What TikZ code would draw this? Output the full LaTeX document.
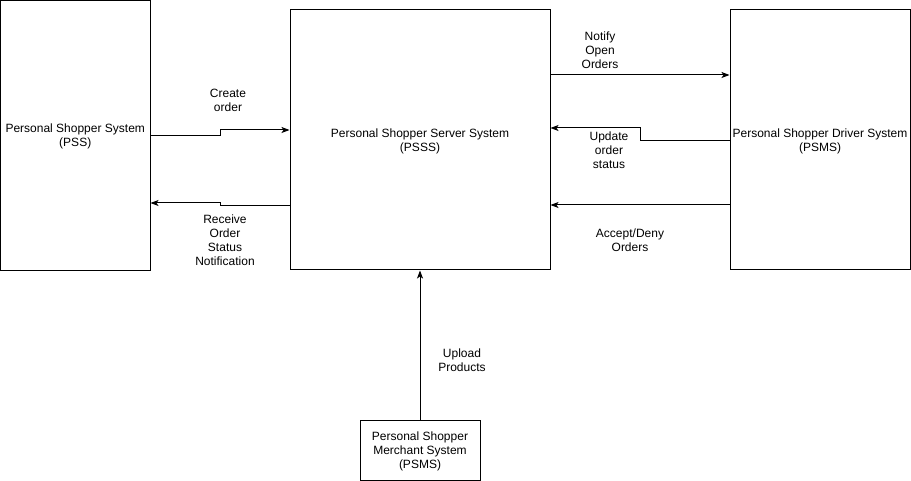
\documentclass[tikz,border=0pt]{standalone}
\usepackage{fontspec}
\setmainfont{Liberation Sans}
\usetikzlibrary{arrows.meta,calc}
\begin{document}
\begin{tikzpicture}[x=1pt,y=-1pt,
  box/.style={draw,line width=1pt,inner sep=0pt},
  lbl/.style={inner sep=0pt,align=center,font=\fontsize{12}{14}\selectfont},
  boxtext/.style={label={[lbl,yshift=-1pt]center:#1}},
  conn/.style={line width=1pt,-{Stealth[length=8pt,width=6pt,inset=2pt]}}]
\useasboundingbox (0,0) rectangle (911,481);
\node[box,minimum width=149.5pt,minimum height=269.5pt,boxtext={Personal Shopper System\\(PSS)}] (pss) at (75.25,135.5) {};
\node[box,minimum width=260pt,minimum height=260pt,boxtext={Personal Shopper Server System\\(PSSS)}] (psss) at (420,140) {};
\node[box,minimum width=180pt,minimum height=260pt,boxtext={Personal Shopper Driver System\\(PSMS)}] (drv) at (820,140) {};
\node[box,minimum width=120pt,minimum height=60pt,boxtext={Personal Shopper\\Merchant System\\(PSMS)}] (mer) at (420,450) {};
% connector points
\coordinate (c1) at (220,135.5);
\coordinate (c1b) at (220,130);
\coordinate (c2) at (220,205.5);
\coordinate (c2b) at (220,203);
\coordinate (c3) at (640,140.5);
\coordinate (c3b) at (640,128);
% connectors
\draw[conn] (pss.east) -- (c1) -- (c1b) -- (c1b -| psss.west);
\draw[conn] (c2 -| psss.west) -- (c2) -- (c2b) -- (c2b -| pss.east);
\draw[conn] (550,75) coordinate (n1) -- (n1 -| drv.west);
\draw[conn] (c3 -| drv.west) -- (c3) -- (c3b) -- (c3b -| psss.east);
\draw[conn] (730,205) coordinate (a1) -- (a1 -| psss.east);
\draw[conn] (mer.north) -- (psss.south);
% labels
\node[lbl] (l1) at (228,100) {Create\\order};
\node[lbl] (l2) at (225,240.5) {Receive\\Order\\Status\\Notification};
\node[lbl] (l3) at (600,50) {Notify\\Open\\Orders};
\node[lbl] (l4) at (609,150) {Update\\order\\status};
\node[lbl] (l5) at (630,240) {Accept/Deny\\Orders};
\node[lbl] (l6) at (462,360) {Upload\\Products};
\end{tikzpicture}
\end{document}
